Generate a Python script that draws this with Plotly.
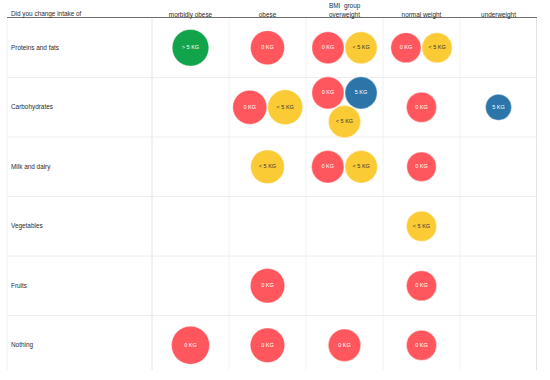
import plotly.graph_objects as go
import math

# ---------------- data ----------------
categories = ["Proteins and fats", "Carbohydrates", "Milk and dairy",
              "Vegetables", "Fruits", "Nothing"]
bmi_groups = ["morbidly obese", "obese", "overweight", "normal weight", "underweight"]
change_levels = ["0 KG", "< 5 KG", "5 KG", "> 5 KG"]

rec_category = ["Proteins and fats", "Proteins and fats", "Proteins and fats", "Proteins and fats",
                "Proteins and fats", "Proteins and fats",
                "Carbohydrates", "Carbohydrates", "Carbohydrates", "Carbohydrates",
                "Carbohydrates", "Carbohydrates", "Carbohydrates",
                "Milk and dairy", "Milk and dairy", "Milk and dairy", "Milk and dairy",
                "Vegetables",
                "Fruits", "Fruits",
                "Nothing", "Nothing", "Nothing", "Nothing"]
rec_bmi = ["morbidly obese", "obese", "overweight", "overweight", "normal weight", "normal weight",
           "obese", "obese", "overweight", "overweight", "overweight", "normal weight", "underweight",
           "obese", "overweight", "overweight", "normal weight",
           "normal weight",
           "obese", "normal weight",
           "morbidly obese", "obese", "overweight", "normal weight"]
rec_change = ["> 5 KG", "0 KG", "0 KG", "< 5 KG", "0 KG", "< 5 KG",
              "0 KG", "< 5 KG", "0 KG", "5 KG", "< 5 KG", "0 KG", "5 KG",
              "< 5 KG", "0 KG", "< 5 KG", "0 KG",
              "< 5 KG",
              "0 KG", "0 KG",
              "0 KG", "0 KG", "0 KG", "0 KG"]
rec_size = [13.0, 11.2, 10.0, 10.0, 8.8, 8.8,
            11.2, 11.8, 10.0, 10.0, 10.0, 8.8, 6.5,
            11.0, 10.2, 10.2, 8.4,
            8.8,
            11.5, 8.8,
            14.0, 11.5, 10.2, 8.8]

# ---------------- styles / layout ----------------
W, H = 550, 380
ML, MR, MT, MB = 7, 13, 18, 10
COL_PX = 77.0
ROW_PX = 59.5
plot_w = W - ML - MR
plot_h = H - MT - MB
x_lo = (len(bmi_groups) - 0.5) - plot_w / COL_PX
y_hi = -0.5 + plot_h / ROW_PX
SIZEREF = 2 / 103.2

colors = {"0 KG": "#FF575D", "< 5 KG": "#FBCB36", "5 KG": "#2C75A9", "> 5 KG": "#12A44A"}
text_colors = {"0 KG": "white", "< 5 KG": "#333333", "5 KG": "white", "> 5 KG": "white"}
FONT = "Liberation Sans, Arial, sans-serif"

def diam(v):
    # plotly area mode: radius = sqrt(v / 2 / sizeref)
    return 2 * math.sqrt(v / 2 / SIZEREF)

# pack bubbles within each cell
cells = {}
for i in range(len(rec_category)):
    cells.setdefault((rec_category[i], rec_bmi[i]), []).append(i)

px_x = [0.0] * len(rec_category)
px_y = [0.0] * len(rec_category)
for key, idx in cells.items():
    ds = [diam(rec_size[i]) for i in idx]
    if len(idx) == 2:
        sep = (ds[0] + ds[1]) / 2 + 1
        px_x[idx[0]], px_x[idx[1]] = -sep / 2, sep / 2
    elif len(idx) == 3:
        sep = sum(ds) / 3 + 1
        px_x[idx[0]], px_y[idx[0]] = -sep / 2, -sep * 0.433
        px_x[idx[1]], px_y[idx[1]] = sep / 2, -sep * 0.433
        px_x[idx[2]], px_y[idx[2]] = 0, sep * 0.433

fig = go.Figure()
for lvl in change_levels:
    ids = [i for i in range(len(rec_change)) if rec_change[i] == lvl]
    if not ids:
        continue
    fig.add_trace(go.Scatter(
        x=[bmi_groups.index(rec_bmi[i]) + px_x[i] / COL_PX for i in ids],
        y=[categories.index(rec_category[i]) + px_y[i] / ROW_PX for i in ids],
        mode="markers+text",
        text=[lvl for i in ids],
        textposition="middle center",
        textfont=dict(family=FONT, size=5.5, color=text_colors[lvl]),
        marker=dict(size=[rec_size[i] for i in ids], sizemode="area", sizeref=SIZEREF,
                    color=colors[lvl], line=dict(width=0.6, color="rgba(255,255,255,0.6)"),
                    opacity=1),
        name=lvl, hoverinfo="text", cliponaxis=False,
    ))

shapes = []
# vertical separators
for b in range(-1, len(bmi_groups)):
    xb = b + 0.5
    col = "#e4e4e4" if b == -1 else ("#d9d9d9" if b == len(bmi_groups) - 1 else "#f2f2f2")
    w = 1.5 if b == len(bmi_groups) - 1 else 1
    shapes.append(dict(type="line", xref="x", yref="paper", x0=xb, x1=xb, y0=0, y1=1,
                       line=dict(color=col, width=w), layer="below"))
shapes.append(dict(type="line", xref="paper", yref="paper", x0=0, x1=0, y0=0, y1=1,
                   line=dict(color="#f2f2f2", width=1), layer="below"))
# horizontal separators
for r in range(len(categories) - 1):
    yb = r + 0.5
    shapes.append(dict(type="line", xref="paper", yref="y", x0=0, x1=1, y0=yb, y1=yb,
                       line=dict(color="#eeeeee", width=1), layer="below"))

annotations = []
for r, c in enumerate(categories):
    annotations.append(dict(x=0, xref="paper", y=r, yref="y", text=c, showarrow=False,
                            xanchor="left", yanchor="middle", xshift=2,
                            font=dict(family=FONT, size=6.4, color="#2b2b2b")))
annotations.append(dict(x=0, xref="paper", y=1, yref="paper", text="Did you change intake of",
                        showarrow=False, xanchor="left", yanchor="bottom", xshift=2, yshift=-2,
                        font=dict(family=FONT, size=6.4, color="#2b2b2b")))
annotations.append(dict(x=(len(bmi_groups) - 1) / 2, xref="x", y=1, yref="paper", text="BMI  group",
                        showarrow=False, xanchor="center", yanchor="bottom", yshift=6,
                        font=dict(family=FONT, size=6.4, color="#2b2b2b")))

fig.update_layout(
    width=W, height=H,
    margin=dict(l=ML, r=MR, t=MT, b=MB, autoexpand=False),
    paper_bgcolor="white", plot_bgcolor="white",
    showlegend=False,
    shapes=shapes, annotations=annotations,
    xaxis=dict(range=[x_lo, len(bmi_groups) - 0.5], side="top",
               tickmode="array", tickvals=list(range(len(bmi_groups))), ticktext=bmi_groups,
               ticks="", showgrid=False, zeroline=False, automargin=False,
               showline=True, linecolor="#6e6e6e", linewidth=1,
               tickfont=dict(family=FONT, size=6.4, color="#2b2b2b"),
               ticklabelstandoff=-3, fixedrange=True),
    yaxis=dict(range=[y_hi, -0.5], showticklabels=False, ticks="", showgrid=False,
               zeroline=False, showline=False, automargin=False, fixedrange=True),
)

fig.write_html("out.html", config={"displayModeBar": False},
               post_script="document.body.style.margin='0px';")
